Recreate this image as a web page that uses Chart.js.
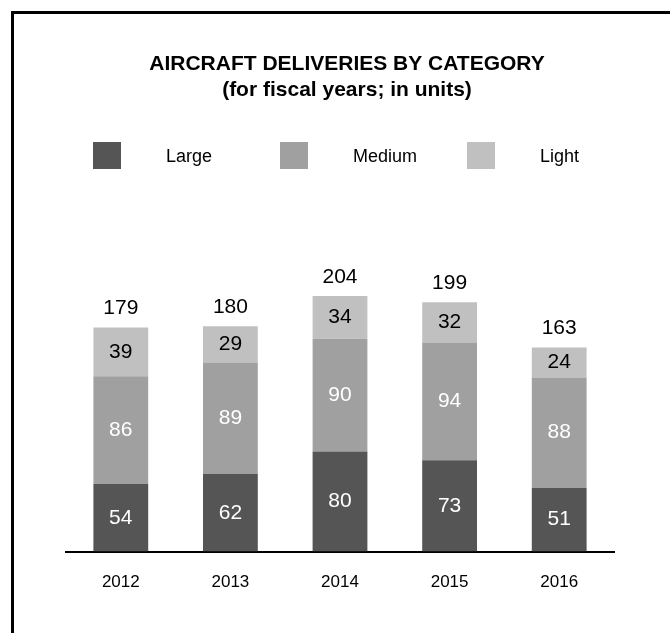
<!DOCTYPE html>
<html>
<head>
<meta charset="utf-8">
<script src="https://cdn.jsdelivr.net/npm/chart.js@4/dist/chart.umd.min.js"></script>
<style>
  body { margin: 0; background: #fff; overflow: hidden; }
  #wrap { position: relative; width: 670px; height: 633px; }
  #frame { position: absolute; left: 11px; top: 11px; width: 700px; height: 700px;
           border-left: 3px solid #000; border-top: 3px solid #000; }
  #deliveries { position: absolute; left: 0; top: 0; }
</style>
</head>
<body>
<div id="wrap">
  <div id="frame"></div>
  <canvas id="deliveries" width="670" height="633"></canvas>
</div>
<script>
var years = ["2012", "2013", "2014", "2015", "2016"];
var large = [54, 62, 80, 73, 51];
var medium = [86, 89, 90, 94, 88];
var light = [39, 29, 34, 32, 24];
var totals = [179, 180, 204, 199, 163];

var FONT = "'Liberation Sans', Arial, sans-serif";

// title + legend drawn on top of the chart
var headerPlugin = {
  id: "header",
  afterDraw: function (chart) {
    var ctx = chart.ctx;
    ctx.save();
    ctx.fillStyle = "#000";
    ctx.textAlign = "center";
    ctx.textBaseline = "middle";
    ctx.font = "bold 21px " + FONT;
    ctx.fillText("AIRCRAFT DELIVERIES BY CATEGORY", 347, 64);
    ctx.fillText("(for fiscal years; in units)", 347, 90);

    ctx.font = "18px " + FONT;
    ctx.textAlign = "left";
    chart.data.datasets.forEach(function (ds, i) {
      var bx = 93 + i * 187;
      ctx.fillStyle = ds.backgroundColor;
      ctx.fillRect(bx, 142, 28, 27);
      ctx.fillStyle = "#000";
      ctx.fillText(ds.label, bx + 73, 157);
    });
    ctx.restore();
  }
};

// values inside each segment and totals above the stack
var valuePlugin = {
  id: "values",
  afterDatasetsDraw: function (chart) {
    var ctx = chart.ctx;
    ctx.save();
    ctx.textAlign = "center";
    ctx.textBaseline = "middle";
    ctx.font = "21px " + FONT;
    chart.data.datasets.forEach(function (ds, i) {
      var meta = chart.getDatasetMeta(i);
      meta.data.forEach(function (bar, j) {
        ctx.fillStyle = ds.labelColor;
        ctx.fillText(ds.data[j], bar.x, (bar.y + bar.base) / 2);
      });
    });
    var top = chart.getDatasetMeta(chart.data.datasets.length - 1);
    ctx.fillStyle = "#000";
    top.data.forEach(function (bar, j) {
      ctx.fillText(totals[j], bar.x, bar.y - 19);
    });
    ctx.restore();
  }
};

new Chart(document.getElementById("deliveries"), {
  type: "bar",
  data: {
    labels: years,
    datasets: [
      { label: "Large", data: large, backgroundColor: "#555555", labelColor: "#fff" },
      { label: "Medium", data: medium, backgroundColor: "#a0a0a0", labelColor: "#fff" },
      { label: "Light", data: light, backgroundColor: "#c0c0c0", labelColor: "#000" }
    ]
  },
  options: {
    responsive: false,
    animation: false,
    events: [],
    barPercentage: 0.5,
    categoryPercentage: 1,
    layout: { padding: { left: 66, right: 56, top: 251, bottom: 19 } },
    plugins: {
      legend: { display: false },
      tooltip: { enabled: false }
    },
    scales: {
      x: {
        stacked: true,
        grid: { display: false, drawTicks: false },
        border: { color: "#000", width: 2 },
        ticks: { color: "#000", font: { family: FONT, size: 17 }, padding: 21 }
      },
      y: {
        stacked: true,
        display: false,
        min: 0,
        max: 240
      }
    }
  },
  plugins: [headerPlugin, valuePlugin]
});
</script>
</body>
</html>
